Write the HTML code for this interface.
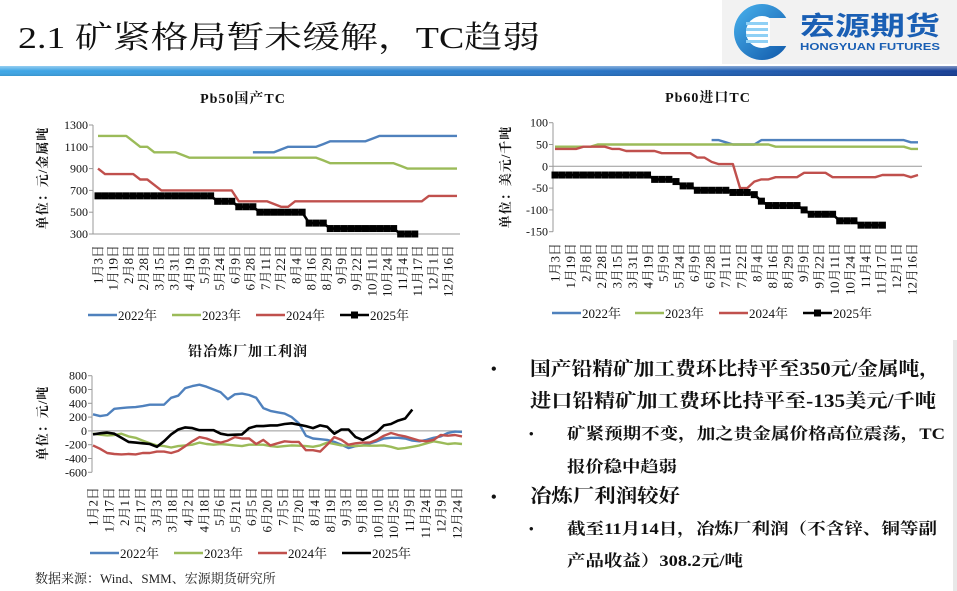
<!DOCTYPE html>
<html><head><meta charset="utf-8">
<style>
html,body{margin:0;padding:0;background:#fff;}
svg{display:block;}
.serif{font-family:"Liberation Serif","Noto Serif CJK SC",serif;}
</style></head>
<body>
<svg id="slide" width="957" height="591" viewBox="0 0 957 591" xmlns="http://www.w3.org/2000/svg">
<defs>
<linearGradient id="barGrad" x1="0" y1="0" x2="1" y2="0">
<stop offset="0" stop-color="#3fa7e6"/><stop offset="0.6" stop-color="#2a78c8"/><stop offset="1" stop-color="#183f95"/>
</linearGradient>
<linearGradient id="barShine" x1="0" y1="0" x2="0" y2="1">
<stop offset="0" stop-color="#fff" stop-opacity="0.45"/><stop offset="0.5" stop-color="#fff" stop-opacity="0"/><stop offset="1" stop-color="#000" stop-opacity="0.1"/>
</linearGradient>
<linearGradient id="logoGrad" x1="0" y1="0" x2="1" y2="1">
<stop offset="0" stop-color="#49b3ee"/><stop offset="1" stop-color="#0f56a8"/>
</linearGradient>
</defs>
<rect x="0" y="0" width="957" height="591" fill="#fff"/>
<rect x="722" y="0" width="235" height="64" fill="#f2f2f2"/>
<text x="18" y="48" class="serif" font-size="31" textLength="522" lengthAdjust="spacingAndGlyphs" fill="#111">2.1 矿紧格局暂未缓解，TC趋弱</text>
<g>
<circle cx="762" cy="32" r="28" fill="url(#logoGrad)"/>
<circle cx="762" cy="32" r="16" fill="#fff"/>
<rect x="746" y="22" width="22" height="3" fill="#8fd0f5"/>
<rect x="746" y="28" width="22" height="3" fill="#8fd0f5"/>
<rect x="746" y="34" width="22" height="3" fill="#8fd0f5"/>
<rect x="746" y="40" width="22" height="3" fill="#8fd0f5"/>
<rect x="770" y="18" width="22" height="28" fill="#f2f2f2"/>
<text x="800" y="35" font-family="'Noto Sans CJK SC',sans-serif" font-weight="bold" font-size="26" fill="#1a5fb4" textLength="140" lengthAdjust="spacingAndGlyphs">宏源期货</text>
<text x="800" y="50" font-family="'Liberation Sans',sans-serif" font-weight="bold" font-size="10" fill="#1a5fb4" textLength="140" lengthAdjust="spacingAndGlyphs">HONGYUAN FUTURES</text>
</g>
<rect x="0" y="66" width="957" height="10" fill="url(#barGrad)"/>
<rect x="0" y="66" width="957" height="10" fill="url(#barShine)"/>
<rect x="953" y="340" width="4" height="251" fill="#e8e8e8"/>

<g id="charts"></g>

<g class="serif" font-weight="bold" fill="#111">
<text x="491" y="374" font-size="16">•</text>
<text x="530" y="375" font-size="19" textLength="410" lengthAdjust="spacingAndGlyphs">国产铅精矿加工费环比持平至350元/金属吨，</text>
<text x="530" y="407" font-size="19" textLength="406" lengthAdjust="spacingAndGlyphs">进口铅精矿加工费环比持平至-135美元/千吨</text>
<text x="529" y="438" font-size="13">•</text>
<text x="567" y="439" font-size="16" textLength="378" lengthAdjust="spacingAndGlyphs">矿紧预期不变，加之贵金属价格高位震荡，TC</text>
<text x="567" y="472" font-size="16" textLength="110" lengthAdjust="spacingAndGlyphs">报价稳中趋弱</text>
<text x="491" y="502" font-size="16">•</text>
<text x="530" y="502" font-size="19" textLength="150" lengthAdjust="spacingAndGlyphs">冶炼厂利润较好</text>
<text x="529" y="533" font-size="13">•</text>
<text x="567" y="534" font-size="16" textLength="370" lengthAdjust="spacingAndGlyphs">截至11月14日，冶炼厂利润（不含锌、铜等副</text>
<text x="567" y="566" font-size="16" textLength="176" lengthAdjust="spacingAndGlyphs">产品收益）308.2元/吨</text>
</g>
<text x="35" y="583" class="serif" font-size="13" fill="#222">数据来源：Wind、SMM、宏源期货研究所</text>
</svg>

<script>
// ---------- Chart 1: Pb50 domestic TC (weekly) ----------
const pb50Labels = ["1月3日","1月19日","2月8日","2月28日","3月15日","3月31日","4月19日","5月9日","5月24日","6月9日","6月28日","7月11日","7月22日","8月4日","8月16日","8月29日","9月9日","9月22日","10月11日","10月24日","11月4日","11月17日","12月1日","12月16日"];
const pb50Ticks = [300,500,700,900,1100,1300];
const pb50S2022 = [null,null,null,null,null,null,null,null,null,null,null,null,null,null,null,null,null,null,null,null,null,null,1050,1050,1050,1050,1075,1100,1100,1100,1100,1100,1125,1150,1150,1150,1150,1150,1150,1175,1200,1200,1200,1200,1200,1200,1200,1200,1200,1200,1200,1200];
const pb50S2023 = [1200,1200,1200,1200,1200,1150,1100,1100,1050,1050,1050,1050,1025,1000,1000,1000,1000,1000,1000,1000,1000,1000,1000,1000,1000,1000,1000,1000,1000,1000,1000,1000,975,950,950,950,950,950,950,950,950,950,950,925,900,900,900,900,900,900,900,900];
const pb50S2024 = [900,850,850,850,850,850,800,800,750,700,700,700,700,700,700,700,700,700,700,700,600,600,600,600,600,575,550,550,600,600,600,600,600,600,600,600,600,600,600,600,600,600,600,600,600,600,600,650,650,650,650,650];
const pb50S2025 = [650,650,650,650,650,650,650,650,650,650,650,650,650,650,650,650,650,600,600,600,550,550,550,500,500,500,500,500,500,500,400,400,400,350,350,350,350,350,350,350,350,350,350,300,300,300];

// ---------- Chart 2: Pb60 import TC (weekly) ----------
const pb60Labels = pb50Labels.slice();
const pb60Ticks = [-150,-100,-50,0,50,100];
const pb60S2022 = [null,null,null,null,null,null,null,null,null,null,null,null,null,null,null,null,null,null,null,null,null,null,60,60,55,50,50,50,50,60,60,60,60,60,60,60,60,60,60,60,60,60,60,60,60,60,60,60,60,60,55,55];
const pb60S2023 = [45,45,45,45,45,45,50,50,50,50,50,50,50,50,50,50,50,50,50,50,50,50,50,50,50,50,50,50,50,50,50,45,45,45,45,45,45,45,45,45,45,45,45,45,45,45,45,45,45,45,40,40];
const pb60S2024 = [40,40,40,40,45,45,45,45,40,40,35,35,35,35,35,30,30,30,30,30,20,20,10,5,5,5,-50,-50,-35,-30,-30,-25,-25,-25,-25,-15,-15,-15,-15,-25,-25,-25,-25,-25,-25,-25,-20,-20,-20,-20,-25,-20];
const pb60S2025 = [-20,-20,-20,-20,-20,-20,-20,-20,-20,-20,-20,-20,-20,-20,-30,-30,-30,-35,-45,-45,-55,-55,-55,-55,-55,-60,-60,-60,-65,-80,-90,-90,-90,-90,-90,-100,-110,-110,-110,-110,-125,-125,-125,-135,-135,-135,-135];

// ---------- Chart 3: smelter processing profit (weekly) ----------
const profitLabels = ["1月2日","1月17日","2月1日","2月17日","3月3日","3月18日","4月2日","4月18日","5月6日","5月21日","6月5日","6月20日","7月5日","7月20日","8月4日","8月19日","9月3日","9月18日","10月10日","10月25日","11月9日","11月24日","12月9日","12月24日"];
const profitTicks = [-600,-400,-200,0,200,400,600,800];
const profitS2022 = [240,215,230,320,330,340,345,360,380,380,380,480,510,620,650,670,640,600,560,460,530,540,520,480,330,290,270,250,200,110,-70,-110,-120,-130,-160,-200,-250,-220,-210,-180,-150,-110,-100,-100,-110,-140,-150,-130,-100,-80,-30,-10,-15];
const profitS2023 = [-40,-55,-65,-60,-40,-80,-100,-140,-180,-210,-220,-240,-220,-210,-200,-170,-190,-200,-190,-200,-210,-220,-200,-200,-200,-220,-230,-220,-210,-215,-220,-230,-210,-170,-190,-210,-210,-220,-210,-215,-215,-210,-230,-260,-250,-230,-210,-180,-150,-170,-190,-180,-190];
const profitS2024 = [-210,-260,-320,-335,-340,-335,-340,-320,-320,-300,-300,-320,-290,-220,-150,-90,-110,-150,-170,-140,-90,-110,-110,-190,-130,-210,-180,-150,-160,-160,-280,-280,-300,-200,-90,-130,-200,-180,-170,-170,-130,-70,-30,-60,-80,-110,-140,-150,-130,-60,-70,-60,-80];
const profitS2025 = [-50,-35,-25,-40,-100,-160,-170,-180,-190,-230,-150,-50,20,50,40,10,10,10,-40,-60,-55,-50,40,70,70,80,80,100,110,90,70,40,80,60,-40,20,20,-90,-130,-80,-20,80,100,150,180,308];

const legendNames = ["2022年","2023年","2024年","2025年"];
const seriesColors = ["#4f81bd","#9bbb59","#c0504d","#000000"];

const NS = "http://www.w3.org/2000/svg";
const root = document.getElementById("charts");
function mk(tag, parent, attrs) {
  const e = document.createElementNS(NS, tag);
  for (const k in attrs) e.setAttribute(k, attrs[k]);
  parent.appendChild(e);
  return e;
}

function drawChart(cfg) {
  const g = mk("g", root, {});
  
  
  const yMin = cfg.ticks[0], yMax = cfg.ticks[cfg.ticks.length - 1];
  const yS = v => cfg.yTop + (yMax - v) / (yMax - yMin) * (cfg.yBot - cfg.yTop);
  const nPts = cfg.nPts;
  const xS = i => cfg.x0 + i * (cfg.x1 - cfg.x0) / (nPts - 1);
  const lblX = i => cfg.lx0 + i * (cfg.lx1 - cfg.lx0) / (cfg.labels.length - 1);

  const title = mk("text", g, {x: cfg.titleX, y: cfg.titleY, "text-anchor": "middle", "font-size": 14, "font-weight": "bold", "letter-spacing": 1, class: "serif", fill: "#111"});
  title.textContent = cfg.title;
  
  

  const yt = mk("text", g, {transform: `translate(${cfg.ytX},${cfg.ytY}) rotate(-90)`, "text-anchor": "middle", "font-size": 13, "font-weight": "bold", class: "serif", fill: "#111", "letter-spacing": 1});
  yt.textContent = cfg.yTitle;
  
  

  const yAxis = mk("line", g, {x1: cfg.axX, x2: cfg.axX, y1: cfg.yTop, y2: cfg.yBot, stroke: "#999", "stroke-width": 1});
  
  

  cfg.ticks.forEach(t => {
    const y = yS(t);
    const tm = mk("line", g, {x1: cfg.axX - 4, x2: cfg.axX, y1: y, y2: y, stroke: "#999", "stroke-width": 1});
    
    
    const tl = mk("text", g, {x: cfg.axX - 5, y: y + 4, "text-anchor": "end", "font-size": 12, class: "serif", fill: "#111"});
    tl.textContent = t;
    
    
  });

  const baseV = cfg.baseAt;
  const bl = mk("line", g, {x1: cfg.axX, x2: cfg.axRight, y1: yS(baseV), y2: yS(baseV), stroke: "#999", "stroke-width": 1});
  
  

  cfg.labels.forEach((l, i) => {
    const x = lblX(i);
    const t = mk("text", g, {transform: `translate(${x + 4.5},${cfg.lblY}) rotate(-90)`, "text-anchor": "end", "font-size": 13, class: "serif", fill: "#111"});
    t.textContent = l;
    
    
  });

  cfg.series.forEach((vals, si) => {
    let d = "", pen = false;
    vals.forEach((v, i) => {
      if (v === null) { pen = false; return; }
      d += (pen ? "L" : "M") + xS(i).toFixed(1) + "," + yS(v).toFixed(1);
      pen = true;
    });
    const p = mk("path", g, {d: d, fill: "none", stroke: seriesColors[si], "stroke-width": si === 3 ? 2.6 : 2.4, "stroke-linejoin": "round"});
    
    
    if (si === 3 && cfg.markers) {
      vals.forEach((v, i) => {
        if (v === null) return;
        const m = mk("rect", g, {x: xS(i) - 3.5, y: yS(v) - 3.5, width: 7, height: 7, fill: "#000"});
        
        
      });
    }
  });

  const lg = mk("g", g, {});
  
  
  legendNames.forEach((n, i) => {
    const x = cfg.legX[i];
    const ln = mk("line", lg, {x1: x, x2: x + 29, y1: cfg.legY, y2: cfg.legY, stroke: seriesColors[i], "stroke-width": 2.6});
    
    
    if (i === 3 && cfg.markers) {
      const m = mk("rect", lg, {x: x + 11, y: cfg.legY - 3.5, width: 7, height: 7, fill: "#000"});
      
      
    }
    const t = mk("text", lg, {x: x + 30, y: cfg.legY + 5, "font-size": 13, class: "serif", fill: "#111"});
    t.textContent = n;
    
    
  });
}

drawChart({name: "pb50-tc-chart", title: "Pb50国产TC", titleX: 243, titleY: 103,
  yTitle: "单位：元/金属吨", ytX: 47, ytY: 178,
  ticks: pb50Ticks, yTop: 125, yBot: 234, axX: 93, axRight: 460, baseAt: 300,
  nPts: 52, x0: 98, x1: 457, labels: pb50Labels, lx0: 98, lx1: 448, lblY: 245,
  series: [pb50S2022, pb50S2023, pb50S2024, pb50S2025], markers: true,
  legX: [88, 172, 256, 340], legY: 315});

drawChart({name: "pb60-tc-chart", title: "Pb60进口TC", titleX: 708, titleY: 102,
  yTitle: "单位：美元/千吨", ytX: 510, ytY: 177,
  ticks: pb60Ticks, yTop: 122.7, yBot: 231.7, axX: 553, axRight: 922, baseAt: 0,
  nPts: 52, x0: 555, x1: 918, labels: pb60Labels, lx0: 555, lx1: 912, lblY: 243,
  series: [pb60S2022, pb60S2023, pb60S2024, pb60S2025], markers: true,
  legX: [552, 635, 719, 803], legY: 313});

drawChart({name: "smelter-profit-chart", title: "铅冶炼厂加工利润", titleX: 248, titleY: 356,
  yTitle: "单位：元/吨", ytX: 47, ytY: 423,
  ticks: profitTicks, yTop: 375.7, yBot: 472.3, axX: 92, axRight: 462, baseAt: 0,
  nPts: 53, x0: 93, x1: 462, labels: profitLabels, lx0: 93, lx1: 457, lblY: 487,
  series: [profitS2022, profitS2023, profitS2024, profitS2025], markers: false,
  legX: [90, 174, 258, 342], legY: 553});
</script>
</body></html>
